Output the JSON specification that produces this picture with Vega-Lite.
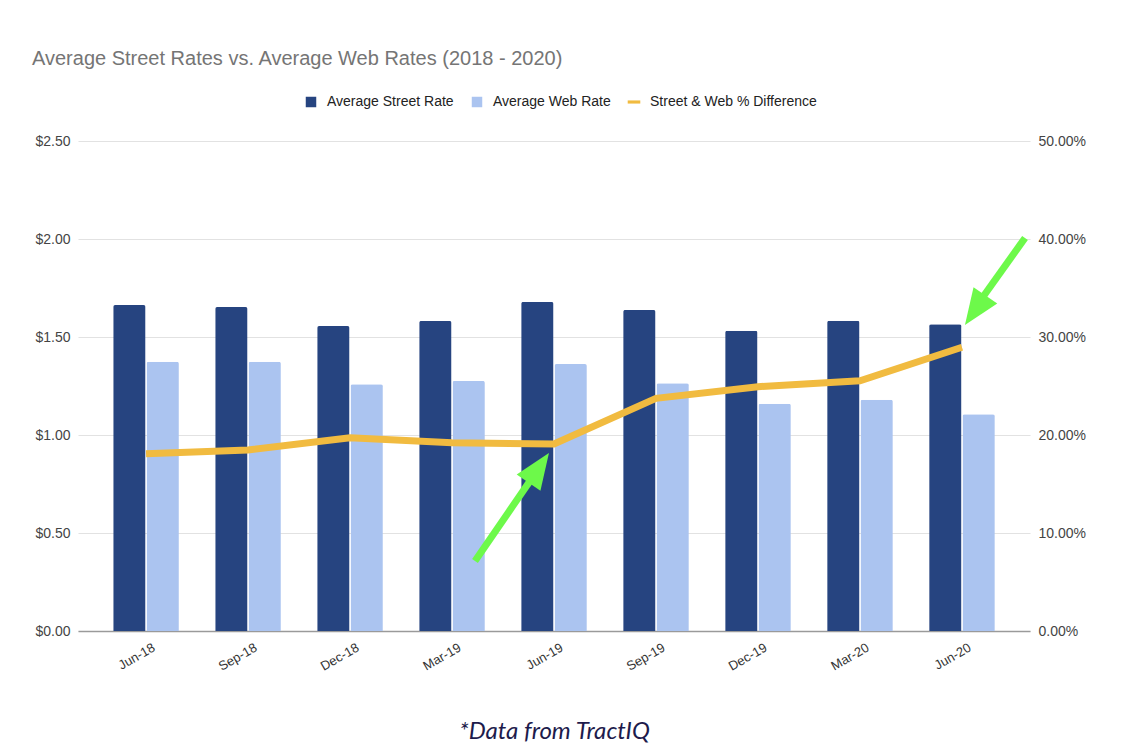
{
  "$schema": "https://vega.github.io/schema/vega-lite/v6.json",
  "width": 952,
  "height": 490,
  "autosize": {"type": "none"},
  "padding": {"left": 78, "top": 141, "right": 96, "bottom": 123},
  "background": "white",
  "title": {
    "text": "Average Street Rates vs. Average Web Rates (2018 - 2020)",
    "anchor": "start",
    "frame": "group",
    "dx": -46,
    "offset": 26,
    "font": "Liberation Sans",
    "fontSize": 20,
    "fontWeight": "normal",
    "color": "#757575"
  },
  "datasets": {
    "bars": [
      {"period": "Jun-18", "series": "Average Street Rate", "value": 1.663},
      {"period": "Jun-18", "series": "Average Web Rate", "value": 1.374},
      {"period": "Sep-18", "series": "Average Street Rate", "value": 1.653},
      {"period": "Sep-18", "series": "Average Web Rate", "value": 1.374},
      {"period": "Dec-18", "series": "Average Street Rate", "value": 1.556},
      {"period": "Dec-18", "series": "Average Web Rate", "value": 1.259},
      {"period": "Mar-19", "series": "Average Street Rate", "value": 1.582},
      {"period": "Mar-19", "series": "Average Web Rate", "value": 1.276},
      {"period": "Jun-19", "series": "Average Street Rate", "value": 1.679},
      {"period": "Jun-19", "series": "Average Web Rate", "value": 1.362},
      {"period": "Sep-19", "series": "Average Street Rate", "value": 1.638},
      {"period": "Sep-19", "series": "Average Web Rate", "value": 1.264},
      {"period": "Dec-19", "series": "Average Street Rate", "value": 1.532},
      {"period": "Dec-19", "series": "Average Web Rate", "value": 1.160},
      {"period": "Mar-20", "series": "Average Street Rate", "value": 1.583},
      {"period": "Mar-20", "series": "Average Web Rate", "value": 1.180},
      {"period": "Jun-20", "series": "Average Street Rate", "value": 1.565},
      {"period": "Jun-20", "series": "Average Web Rate", "value": 1.106}
    ],
    "diff": [
      {"period": "Jun-18", "diff": 0.1809},
      {"period": "Sep-18", "diff": 0.1847},
      {"period": "Dec-18", "diff": 0.1971},
      {"period": "Mar-19", "diff": 0.1921},
      {"period": "Jun-19", "diff": 0.1908},
      {"period": "Sep-19", "diff": 0.2374},
      {"period": "Dec-19", "diff": 0.2493},
      {"period": "Mar-20", "diff": 0.2554},
      {"period": "Jun-20", "diff": 0.2895}
    ],
    "arrows": [
      {"id": "a", "tail_x": 3.232, "tail_y": 0.357, "base_x": 3.791, "base_y": 0.781, "tip_x": 3.957, "tip_y": 0.908},
      {"id": "b", "tail_x": 8.626, "tail_y": 2.005, "base_x": 8.185, "base_y": 1.684, "tip_x": 8.037, "tip_y": 1.561}
    ]
  },
  "layer": [
    {
      "data": {"name": "bars"},
      "mark": {"type": "bar", "cornerRadiusTopLeft": 2, "cornerRadiusTopRight": 2},
      "encoding": {
        "x": {
          "field": "period",
          "type": "nominal",
          "sort": null,
          "scale": {
            "domain": ["Jun-18", "Sep-18", "Dec-18", "Mar-19", "Jun-19", "Sep-19", "Dec-19", "Mar-20", "Jun-20"],
            "paddingInner": 0.356,
            "paddingOuter": 0.345
          },
          "axis": {
            "title": "*Data from TractIQ",
            "titleFont": "Lato",
            "titleFontStyle": "italic",
            "titleFontWeight": "normal",
            "titleFontSize": 24,
            "titleColor": "#1d1b4c",
            "titlePadding": 46,
            "labelAngle": -30,
            "labelAlign": "right",
            "labelBaseline": "top",
            "labelFont": "Liberation Sans",
            "labelFontSize": 13,
            "labelColor": "#333333",
            "labelPadding": 10,
            "labelOffset": 5,
            "ticks": false,
            "domainColor": "#9a9a9a",
            "domainWidth": 1.5
          }
        },
        "xOffset": {
          "field": "series",
          "type": "nominal",
          "scale": {"domain": ["Average Street Rate", "Average Web Rate"], "paddingInner": 0.03}
        },
        "y": {
          "field": "value",
          "type": "quantitative",
          "scale": {"domain": [0, 2.5], "nice": false},
          "axis": {
            "title": null,
            "orient": "left",
            "values": [0, 0.5, 1, 1.5, 2, 2.5],
            "format": "$.2f",
            "grid": true,
            "gridColor": "#e2e2e2",
            "gridWidth": 1.2,
            "domain": false,
            "ticks": false,
            "labelPadding": 8,
            "labelFont": "Liberation Sans",
            "labelFontSize": 14,
            "labelColor": "#444444"
          }
        },
        "color": {
          "field": "series",
          "type": "nominal",
          "scale": {
            "domain": ["Average Street Rate", "Average Web Rate", "Street & Web % Difference"],
            "range": ["#264480", "#abc4f0", "#f1bb40"]
          },
          "legend": {
            "orient": "none",
            "legendX": 226,
            "legendY": -46,
            "direction": "horizontal",
            "title": null,
            "labelFont": "Liberation Sans",
            "labelFontSize": 14,
            "labelColor": "#222222",
            "labelLimit": 400,
            "symbolSize": 110,
            "symbolType": "square",
            "symbolStrokeWidth": 0,
            "columnPadding": 16,
            "labelOffset": 9,
            "encode": {
              "symbols": {
                "update": {
                  "shape": {"signal": "datum.value === 'Street & Web % Difference' ? 'M-1.2,-0.3H1.2V0.3H-1.2Z' : 'square'"},
                  "fill": {"scale": "color", "field": "value"},
                  "opacity": {"value": 1}
                }
              }
            }
          }
        }
      }
    },
    {
      "data": {"name": "diff"},
      "mark": {"type": "line", "strokeWidth": 7},
      "encoding": {
        "x": {
          "field": "period",
          "type": "nominal",
          "sort": null,
          "scale": {
            "type": "band",
            "domain": ["Jun-18", "Sep-18", "Dec-18", "Mar-19", "Jun-19", "Sep-19", "Dec-19", "Mar-20", "Jun-20"],
            "paddingInner": 0.356,
            "paddingOuter": 0.345
          },
          "axis": null
        },
        "y": {
          "field": "diff",
          "type": "quantitative",
          "scale": {"domain": [0, 0.5], "nice": false},
          "axis": {
            "title": null,
            "orient": "right",
            "values": [0, 0.1, 0.2, 0.3, 0.4, 0.5],
            "format": ".2%",
            "grid": false,
            "domain": false,
            "ticks": false,
            "labelPadding": 8,
            "labelFont": "Liberation Sans",
            "labelFontSize": 14,
            "labelColor": "#444444"
          }
        },
        "color": {"datum": "Street & Web % Difference"}
      }
    },
    {
      "data": {"name": "arrows"},
      "mark": {"type": "rule", "strokeWidth": 7, "color": "#6df94a", "strokeCap": "butt"},
      "encoding": {
        "x": {"field": "tail_x", "type": "quantitative", "scale": {"domain": [-0.662, 8.675], "nice": false, "zero": false}, "axis": null},
        "x2": {"field": "base_x"},
        "y": {"field": "tail_y", "type": "quantitative", "scale": {"domain": [0, 2.5], "nice": false}, "axis": null},
        "y2": {"field": "base_y"}
      }
    },
    {
      "data": {"name": "arrows"},
      "transform": [{"filter": "datum.id === 'a'"}],
      "mark": {"type": "point", "shape": "M0,0L0.8,2L-0.8,2Z", "size": 1296, "angle": 34.5, "filled": true, "opacity": 1, "color": "#6df94a"},
      "encoding": {
        "x": {"field": "tip_x", "type": "quantitative", "scale": {"domain": [-0.662, 8.675], "nice": false, "zero": false}, "axis": null},
        "y": {"field": "tip_y", "type": "quantitative", "scale": {"domain": [0, 2.5], "nice": false}, "axis": null}
      }
    },
    {
      "data": {"name": "arrows"},
      "transform": [{"filter": "datum.id === 'b'"}],
      "mark": {"type": "point", "shape": "M0,0L0.8,2L-0.8,2Z", "size": 1296, "angle": 214.6, "filled": true, "opacity": 1, "color": "#6df94a"},
      "encoding": {
        "x": {"field": "tip_x", "type": "quantitative", "scale": {"domain": [-0.662, 8.675], "nice": false, "zero": false}, "axis": null},
        "y": {"field": "tip_y", "type": "quantitative", "scale": {"domain": [0, 2.5], "nice": false}, "axis": null}
      }
    }
  ],
  "resolve": {"scale": {"x": "independent", "y": "independent"}},
  "config": {"view": {"stroke": null}}
}
